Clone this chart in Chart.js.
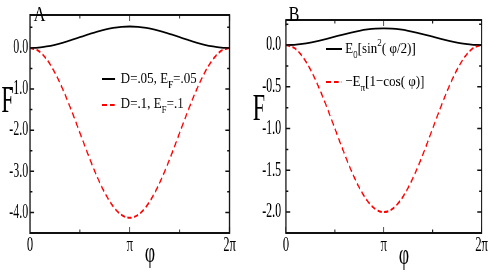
<!DOCTYPE html>
<html>
<head>
<meta charset="utf-8">
<script src="https://cdn.jsdelivr.net/npm/chart.js@4"></script>
<style>
  body { margin: 0; background: #fff; }
  .panel { position: absolute; top: 0; height: 273px; transform: scaleX(0.6); transform-origin: 0 0; }
</style>
</head>
<body>
<div class="panel" style="left:0"><canvas id="chartA" width="408" height="273"></canvas></div>
<div class="panel" style="left:245px"><canvas id="chartB" width="410" height="273"></canvas></div>
<script>
// phase points (radians)
const phi = [0, 0.262, 0.524, 0.785, 1.047, 1.309, 1.571, 1.833, 2.094, 2.356, 2.618, 2.880, 3.142,
             3.403, 3.665, 3.927, 4.189, 4.451, 4.712, 4.974, 5.236, 5.498, 5.760, 6.021, 6.283];

// panel A
const blackA = [0, 0.009, 0.035, 0.076, 0.13, 0.193, 0.26, 0.327, 0.39, 0.444, 0.485, 0.511, 0.52,
                0.511, 0.485, 0.444, 0.39, 0.327, 0.26, 0.193, 0.13, 0.076, 0.035, 0.009, 0];
const redA = [0, -0.07, -0.277, -0.605, -1.033, -1.531, -2.065, -2.6, -3.098, -3.525, -3.853, -4.06, -4.13,
              -4.06, -3.853, -3.525, -3.098, -2.6, -2.065, -1.531, -1.033, -0.605, -0.277, -0.07, 0];

// panel B
const blackB = [0, 0.003, 0.013, 0.029, 0.05, 0.074, 0.1, 0.126, 0.15, 0.171, 0.187, 0.197, 0.2,
                0.197, 0.187, 0.171, 0.15, 0.126, 0.1, 0.074, 0.05, 0.029, 0.013, 0.003, 0];
const redB = [0, -0.034, -0.134, -0.293, -0.5, -0.741, -1.0, -1.259, -1.5, -1.707, -1.866, -1.966, -2.0,
              -1.966, -1.866, -1.707, -1.5, -1.259, -1.0, -0.741, -0.5, -0.293, -0.134, -0.034, 0];

// ticks
const xTicks = [0, 1.5708, 3.1416, 4.7124, 6.2832];
const xTickLabels = ['0', '', 'π', '', '2π'];
const yTicksA = [-4, -3.5, -3, -2.5, -2, -1.5, -1, -0.5, 0, 0.5];
const yLabelsA = ['-4.0', '', '-3.0', '', '-2.0', '', '-1.0', '', '0.0', ''];
const yTicksB = [-2, -1.75, -1.5, -1.25, -1, -0.75, -0.5, -0.25, 0, 0.25];
const yLabelsB = ['-2.0', '', '-1.5', '', '-1.0', '', '-0.5', '', '0.0', ''];

const SERIF = '"Liberation Serif", "Times New Roman", serif';
const LEG_SX = 1.4;

function drawRich(ctx, x, y, parts, size) {
    ctx.save();
    ctx.translate(x, y);
    ctx.scale(LEG_SX, 1);
    let cx = 0;
    parts.forEach(p => {
        const fs = p.s ? size * 0.7 : size;
        ctx.font = fs + 'px ' + SERIF;
        const dy = p.s === 'sub' ? size * 0.3 : (p.s === 'sup' ? -size * 0.42 : 0);
        ctx.fillText(p.t, cx, dy);
        cx += ctx.measureText(p.t).width;
    });
    ctx.restore();
}

function decor(geo) {
    return {
        id: 'decor',
        afterDatasetsDraw(chart) {
            const ctx = chart.ctx, a = chart.chartArea;
            const xs = chart.scales.x, ys = chart.scales.y;
            ctx.save();
            ctx.strokeStyle = '#111';
            ctx.lineWidth = 2;
            ctx.setLineDash([]);
            ctx.strokeRect(a.left, a.top, a.right - a.left, a.bottom - a.top);
            ctx.beginPath();
            ctx.lineWidth = 1.5;
            xs.ticks.forEach(t => {
                const px = xs.getPixelForValue(t.value);
                const len = t.label ? 6 : 3.5;
                ctx.moveTo(px, a.bottom); ctx.lineTo(px, a.bottom - len);
                ctx.moveTo(px, a.top); ctx.lineTo(px, a.top + len);
            });
            ys.ticks.forEach(t => {
                const py = ys.getPixelForValue(t.value);
                const len = t.label ? 7 : 4;
                ctx.moveTo(a.left, py); ctx.lineTo(a.left + len, py);
                ctx.moveTo(a.right, py); ctx.lineTo(a.right - len, py);
            });
            ctx.stroke();

            // axis titles and panel letter
            ctx.fillStyle = '#000';
            ctx.textAlign = 'center';
            ctx.textBaseline = 'alphabetic';
            ctx.font = '37px ' + SERIF;
            ctx.fillText('F', geo.fX, geo.fY);
            ctx.font = '30px ' + SERIF;
            ctx.fillText('φ', geo.phiX, geo.phiY);
            ctx.textAlign = 'left';
            ctx.save();
            ctx.translate(geo.letterX, geo.letterY);
            ctx.scale(1.3, 1);
            ctx.font = '21px ' + SERIF;
            ctx.fillText(geo.letter, 0, 0);
            ctx.restore();

            // legend
            geo.legend.forEach(row => {
                ctx.beginPath();
                ctx.strokeStyle = row.color;
                ctx.lineWidth = 2;
                ctx.setLineDash(row.dash);
                ctx.moveTo(geo.legX0, row.y);
                ctx.lineTo(geo.legX1, row.y);
                ctx.stroke();
                ctx.setLineDash([]);
                drawRich(ctx, geo.legTextX, row.base, row.parts, 15.5);
            });
            ctx.restore();
        }
    };
}

function makePanel(id, black, red, yTicks, yLabels, yMin, yMax, geo) {
    const ctx = document.getElementById(id).getContext('2d');
    return new Chart(ctx, {
        type: 'line',
        data: {
            datasets: [
                {
                    data: phi.map((p, i) => ({ x: p, y: red[i] })),
                    borderColor: '#ff0000',
                    borderWidth: 2,
                    borderDash: [7, 4],
                    pointRadius: 0,
                    cubicInterpolationMode: 'monotone'
                },
                {
                    data: phi.map((p, i) => ({ x: p, y: black[i] })),
                    borderColor: '#000',
                    borderWidth: 1.8,
                    pointRadius: 0,
                    cubicInterpolationMode: 'monotone'
                }
            ]
        },
        options: {
            responsive: false,
            animation: false,
            devicePixelRatio: 1,
            layout: { padding: { top: 1, right: geo.padRight, bottom: 0, left: 0 } },
            plugins: { legend: { display: false }, tooltip: { enabled: false } },
            scales: {
                x: {
                    type: 'linear',
                    min: 0,
                    max: 6.2832,
                    grid: { display: false, drawTicks: false },
                    border: { display: false },
                    afterBuildTicks: s => { s.ticks = xTicks.map(v => ({ value: v })); },
                    afterFit: s => { s.height = 40; },
                    ticks: {
                        autoSkip: false,
                        maxRotation: 0,
                        padding: 0,
                        color: '#000',
                        font: { family: SERIF, size: 21 },
                        callback: (v, i) => xTickLabels[i]
                    }
                },
                y: {
                    min: yMin,
                    max: yMax,
                    grid: { display: false, drawTicks: false },
                    border: { display: false },
                    afterBuildTicks: s => { s.ticks = yTicks.map(v => ({ value: v })); },
                    afterFit: s => { s.width = geo.plotLeft; },
                    ticks: {
                        autoSkip: false,
                        padding: geo.yPad,
                        color: '#000',
                        font: { family: SERIF, size: 20 },
                        callback: (v, i) => yLabels[i]
                    }
                }
            }
        },
        plugins: [decor(geo)]
    });
}

makePanel('chartA', blackA, redA, yTicksA, yLabelsA, -4.5, 0.8, {
    plotLeft: 50, padRight: 25.5, yPad: 3,
    fX: 12.5, fY: 112, phiX: 250, phiY: 262,
    letter: 'A', letterX: 56, letterY: 21,
    legX0: 170, legX1: 192, legTextX: 201,
    legend: [
        { y: 79, base: 83, color: '#000', dash: [], parts: [{ t: 'D=.05, E' }, { t: 'F', s: 'sub' }, { t: '=.05' }] },
        { y: 105, base: 108, color: '#ff0000', dash: [8, 5], parts: [{ t: 'D=.1, E' }, { t: 'F', s: 'sub' }, { t: '=.1' }] }
    ]
});

makePanel('chartB', blackB, redB, yTicksB, yLabelsB, -2.25, 0.3, {
    plotLeft: 68.3, padRight: 15.8, yPad: 8,
    fX: 23.3, fY: 120, phiX: 265, phiY: 264,
    letter: 'B', letterX: 72.5, letterY: 21,
    legX0: 135, legX1: 162, legTextX: 167,
    legend: [
        { y: 49, base: 53, color: '#000', dash: [], parts: [{ t: 'E' }, { t: '0', s: 'sub' }, { t: '[sin' }, { t: '2', s: 'sup' }, { t: '( φ/2)]' }] },
        { y: 82, base: 86, color: '#ff0000', dash: [8, 5], parts: [{ t: '−E' }, { t: 'π', s: 'sub' }, { t: '[1−cos( φ)]' }] }
    ]
});
</script>
</body>
</html>
